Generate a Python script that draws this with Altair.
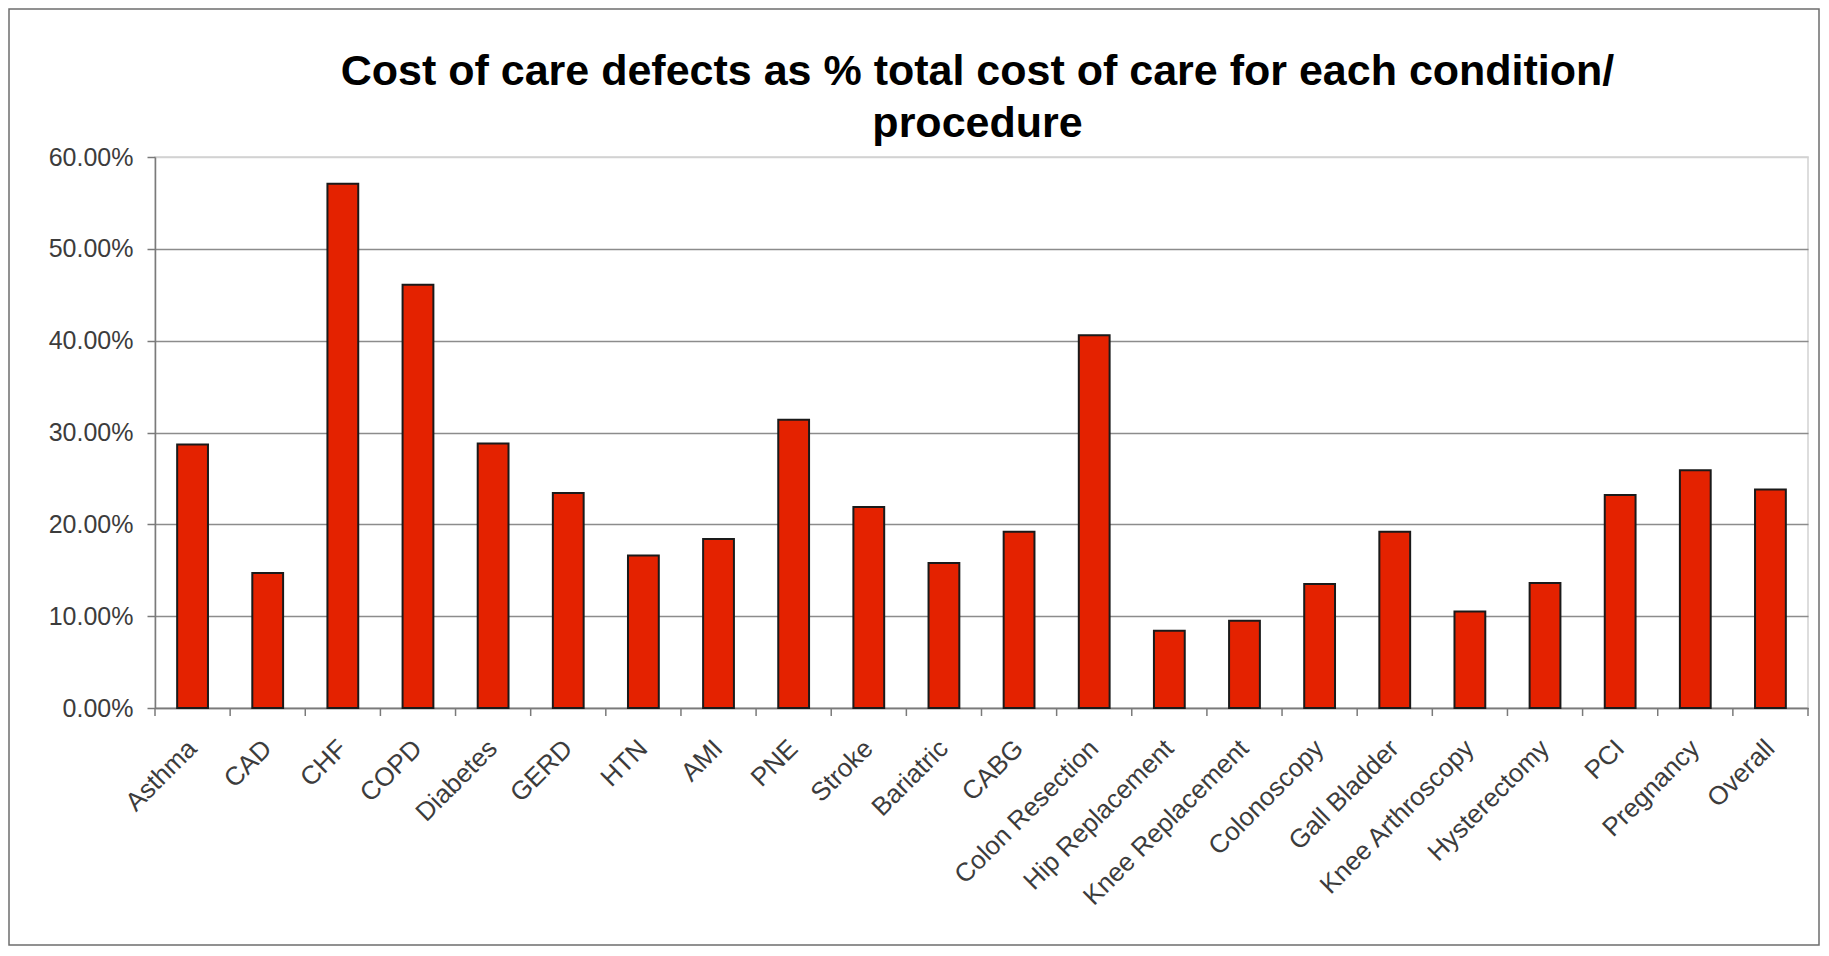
import altair as alt
import pandas as pd

# ---- data ----
CATEGORIES = ["Asthma", "CAD", "CHF", "COPD", "Diabetes", "GERD", "HTN", "AMI",
              "PNE", "Stroke", "Bariatric", "CABG", "Colon Resection",
              "Hip Replacement", "Knee Replacement", "Colonoscopy", "Gall Bladder",
              "Knee Arthroscopy", "Hysterectomy", "PCI", "Pregnancy", "Overall"]
VALUES_PCT = [28.7, 14.7, 57.1, 46.1, 28.8, 23.4, 16.6, 18.4, 31.4, 21.9, 15.8,
              19.2, 40.6, 8.4, 9.5, 13.5, 19.2, 10.5, 13.6, 23.2, 25.9, 23.8]
Y_TICKS_PCT = [0, 10, 20, 30, 40, 50, 60]
TITLE_LINES = ["Cost of care defects as % total cost of care for each condition/",
               "procedure"]

df = pd.DataFrame({"cat": CATEGORIES, "val": [v / 100 for v in VALUES_PCT]})
y_ticks = [t / 100 for t in Y_TICKS_PCT]

W, H = 1653, 551
FONT = "Liberation Sans"

x_scale = alt.Scale(domain=CATEGORIES, paddingInner=0, paddingOuter=0)
x_axis = alt.Axis(title=None, labelAngle=-45, labelAlign="right", labelBaseline="middle",
                  labelFontSize=26, labelFont=FONT, labelColor="#3c3c3c",
                  labelPadding=36, labelOffset=0, labelLimit=500, ticks=False,
                  grid=False, domainColor="#7a7a7a", domainWidth=1.5)
y_scale = alt.Scale(domain=[0, 0.6], nice=False)
y_axis = alt.Axis(title=None, values=y_ticks, format=".2%", labelFontSize=25,
                  labelFont=FONT, labelColor="#3c3c3c", labelPadding=14,
                  tickColor="#7a7a7a", tickSize=8, tickWidth=1.5,
                  domainColor="#7a7a7a", domainWidth=1.5,
                  gridColor=alt.condition("datum.value >= 0.59",
                                          alt.value("#d2d2d2"), alt.value("#8c8c8c")),
                  gridWidth=1.5)

one = pd.DataFrame({"k": [0]})

border = alt.Chart(one).mark_rect(fillOpacity=0, stroke="#6e6e6e", strokeWidth=1.5).encode(
    x=alt.value(-146), x2=alt.value(W + 11), y=alt.value(-148), y2=alt.value(H + 237)
)

bars = alt.Chart(df).mark_bar(
    width=alt.RelativeBandSize(0.41), fill="#E42200", stroke="#1a1a1a", strokeWidth=2
).encode(
    x=alt.X("cat:N", scale=x_scale, axis=x_axis, sort=CATEGORIES),
    y=alt.Y("val:Q", scale=y_scale, axis=y_axis),
)

xticks = alt.Chart(df).mark_rule(color="#7a7a7a", strokeWidth=1.5).encode(
    x=alt.X("cat:N", scale=x_scale, axis=x_axis, sort=CATEGORIES, bandPosition=0),
    y=alt.value(H), y2=alt.value(H + 8),
)
end_tick = alt.Chart(one).mark_rule(color="#7a7a7a", strokeWidth=1.5).encode(
    x=alt.value(W), y=alt.value(H), y2=alt.value(H + 8)
)

title_df = pd.DataFrame({"title": ["\n".join(TITLE_LINES)]})
title = alt.Chart(title_df).mark_text(
    font=FONT, fontSize=43, fontWeight="bold", color="#000000", lineBreak="\n",
    lineHeight=52, align="center", baseline="alphabetic"
).encode(text="title:N", x=alt.value(W / 2 - 4), y=alt.value(-72))

chart = alt.layer(border, bars, xticks, end_tick, title).properties(
    width=W, height=H,
    autosize=alt.AutoSizeParams(type="none"),
    padding={"left": 147, "top": 149, "right": 12, "bottom": 240},
    background="white",
).configure_view(stroke="#d2d2d2", strokeWidth=1.5)

chart.save("out.html", embed_options={"renderer": "svg", "actions": False})
